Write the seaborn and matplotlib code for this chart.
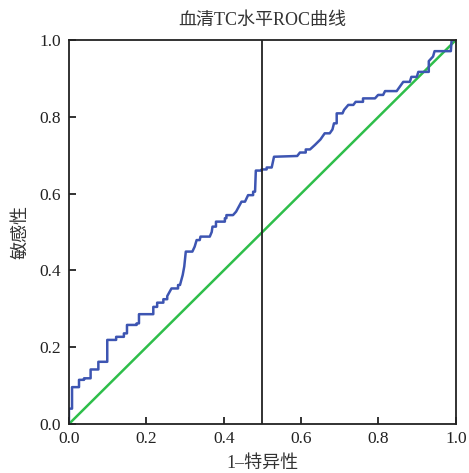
import pandas as pd
import seaborn as sns
import matplotlib.pyplot as plt

# ROC curve vertices (1 - specificity, sensitivity)
fpr = [0.0, 0.0, 0.008, 0.008, 0.026, 0.026, 0.039, 0.039, 0.056, 0.056,
       0.076, 0.076, 0.099, 0.099, 0.122, 0.122, 0.142, 0.142, 0.150, 0.150,
       0.175, 0.175, 0.181, 0.181, 0.218, 0.218, 0.228, 0.228, 0.244, 0.244,
       0.254, 0.254, 0.265, 0.282, 0.282, 0.287, 0.294, 0.298, 0.302, 0.319,
       0.325, 0.330, 0.338, 0.340, 0.364, 0.369, 0.371, 0.380, 0.380, 0.403,
       0.403, 0.407, 0.407, 0.424, 0.432, 0.446, 0.455, 0.463, 0.476, 0.476,
       0.481, 0.483, 0.498, 0.498, 0.511, 0.511, 0.524, 0.530, 0.590, 0.597,
       0.612, 0.612, 0.623, 0.636, 0.650, 0.661, 0.674, 0.681, 0.685, 0.692,
       0.692, 0.707, 0.711, 0.722, 0.735, 0.741, 0.760, 0.760, 0.791, 0.799,
       0.812, 0.817, 0.847, 0.864, 0.881, 0.885, 0.899, 0.903, 0.930, 0.930,
       0.941, 0.945, 0.987, 0.989, 1.0]
tpr = [0.0, 0.040, 0.040, 0.096, 0.096, 0.115, 0.115, 0.119, 0.119, 0.142,
       0.142, 0.162, 0.162, 0.219, 0.219, 0.227, 0.227, 0.236, 0.236, 0.258,
       0.258, 0.262, 0.262, 0.286, 0.286, 0.305, 0.305, 0.316, 0.316, 0.325,
       0.325, 0.333, 0.353, 0.353, 0.362, 0.362, 0.388, 0.410, 0.449, 0.449,
       0.462, 0.479, 0.479, 0.488, 0.488, 0.500, 0.514, 0.514, 0.527, 0.527,
       0.536, 0.536, 0.544, 0.544, 0.553, 0.579, 0.579, 0.596, 0.596, 0.605,
       0.605, 0.660, 0.660, 0.663, 0.663, 0.668, 0.668, 0.696, 0.698, 0.707,
       0.707, 0.715, 0.715, 0.727, 0.741, 0.757, 0.757, 0.767, 0.783, 0.783,
       0.809, 0.809, 0.818, 0.831, 0.831, 0.839, 0.839, 0.848, 0.848, 0.857,
       0.857, 0.867, 0.867, 0.891, 0.891, 0.904, 0.904, 0.917, 0.917, 0.945,
       0.957, 0.971, 0.971, 1.0, 1.0]
ref_x = [0.0, 1.0]
ref_y = [0.0, 1.0]
cutoff = 0.5

title = "血清TC水平ROC曲线"
xlabel = "1–特异性"
ylabel = "敏感性"
ticks = [0.0, 0.2, 0.4, 0.6, 0.8, 1.0]

sns.set_style("ticks")
plt.rcParams['font.family'] = ['Liberation Serif', 'Noto Sans CJK SC', 'DejaVu Sans']

fig = plt.figure(figsize=(4.69, 4.73), dpi=100)
ax = fig.add_axes([0.147, 0.1036, 0.825, 0.8118])

roc = pd.DataFrame({"fpr": fpr, "tpr": tpr})
ref = pd.DataFrame({"x": ref_x, "y": ref_y})

sns.lineplot(data=ref, x="x", y="y", ax=ax, color="#2EBE4A", linewidth=1.8,
             sort=False, estimator=None)
sns.lineplot(data=roc, x="fpr", y="tpr", ax=ax, color="#3D55B2", linewidth=1.8,
             sort=False, estimator=None)
ax.axvline(cutoff, color="#222222", linewidth=1.3)

ax.set_xlim(0, 1)
ax.set_ylim(0, 1)
ax.set_xticks(ticks)
ax.set_yticks(ticks)
ax.set_xticklabels([f"{t:.1f}" for t in ticks])
ax.set_yticklabels([f"{t:.1f}" for t in ticks])
ax.tick_params(direction="in", length=5, width=1.3, labelsize=12.5, colors="#222222")
ax.tick_params(axis="x", pad=5)
ax.tick_params(axis="y", pad=6)
for s in ax.spines.values():
    s.set_linewidth(1.3)
    s.set_color("#222222")

ax.set_title(title, fontsize=13, color="#333333", pad=11)
ax.set_xlabel(xlabel, fontsize=13, color="#333333", labelpad=6)
ax.set_ylabel(ylabel, fontsize=13, color="#333333", labelpad=7)

fig.savefig("out.png", dpi=100)
